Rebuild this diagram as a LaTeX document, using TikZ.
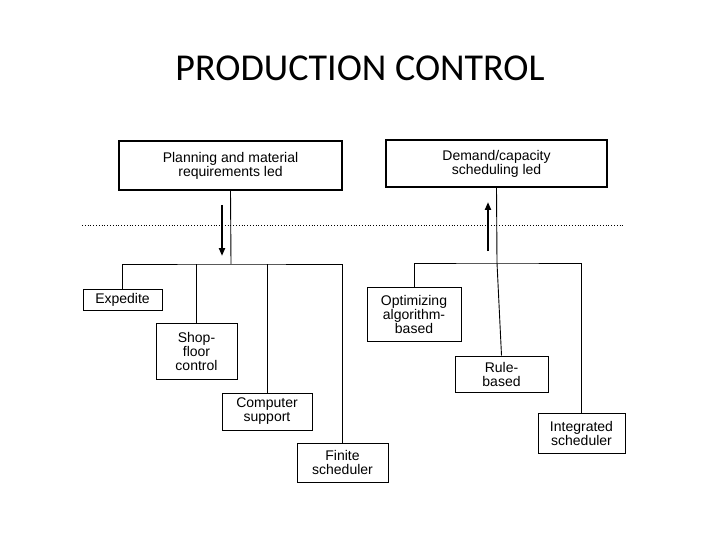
\documentclass[tikz,border=0pt]{standalone}
\usepackage{fontspec}
\setmainfont{Liberation Sans}
\newfontfamily\titlefont{Carlito}
\usetikzlibrary{arrows.meta}
\begin{document}
\begin{tikzpicture}[x=1pt,y=-1pt,
  box/.style={draw,line width=1pt,align=center,inner sep=0pt,font=\fontsize{14}{14}\selectfont},
  ln/.style={line width=0.9pt},
  arr/.style={line width=2pt,-{Triangle[length=8pt,width=6pt]}}]
\useasboundingbox (0,0) rectangle (720,540);
\node[font=\titlefont\fontsize{38}{40}\selectfont] (title) at (360,68) {PRODUCTION CONTROL};
\node[box,line width=1.4pt,minimum width=223pt,minimum height=49pt] (plan) at (230.5,165.5) {Planning and material\\requirements led};
\node[box,line width=1.4pt,minimum width=221pt,minimum height=47pt] (dem) at (496.5,163.5) {Demand/capacity\\scheduling led};
\node[box,minimum width=79pt,minimum height=21pt] (exp) at (122.5,299.5) {Expedite};
\node[box,minimum width=81pt,minimum height=56pt] (shop) at (196.5,351) {Shop-\\floor\\control};
\node[box,minimum width=90pt,minimum height=37pt] (comp) at (267,411.5) {Computer\\support};
\node[box,minimum width=91pt,minimum height=39pt] (fin) at (342.5,462.5) {Finite\\scheduler};
\node[box,minimum width=94pt,minimum height=54pt] (opt) at (414,314) {Optimizing\\algorithm-\\based};
\node[box,minimum width=93pt,minimum height=36pt] (rule) at (501.5,374) {Rule-\\based};
\node[box,minimum width=87pt,minimum height=40pt] (integ) at (581.5,433) {Integrated\\scheduler};
\coordinate (lb) at (231,264);
\coordinate (rb) at (497,263);
\coordinate (d1) at (82,225); \coordinate (d2) at (625,225);
\draw[dotted,line width=0.8pt] (d1) -- (d2);
\draw[ln] (plan.south) -- (lb);
\draw[ln] (exp.north) |- (lb) -| (fin.north);
\draw[ln] (shop.north) -- (shop.north |- lb);
\draw[ln] (comp.north) -- (comp.north |- lb);
\draw[ln] (dem.south) -- (rb);
\draw[ln] (opt.north) |- (rb) -| (integ.north);
\draw[ln] (rule.north) -- (rb);
\coordinate (a1) at (222,205); \coordinate (a2) at (222,256);
\coordinate (b1) at (488,251); \coordinate (b2) at (488,202);
\draw[arr] (a1) -- (a2);
\draw[arr] (b1) -- (b2);
\end{tikzpicture}
\end{document}
